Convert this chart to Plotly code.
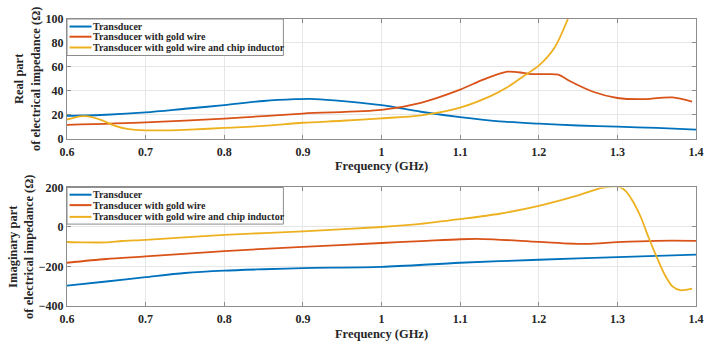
import plotly.graph_objects as go

# Frequency sample points (GHz) and impedance readings (Ohm) per configuration
freq_re_t = [0.6, 0.65, 0.7, 0.75, 0.8, 0.85, 0.89, 0.91, 0.94, 1.0, 1.05, 1.1, 1.15, 1.2, 1.25, 1.3, 1.35, 1.4]
re_t = [19, 20, 22, 25, 28, 31.5, 33, 33.3, 32, 28, 22.5, 18, 14.5, 12.5, 11, 10, 9, 7.5]

freq_re_g = [0.6, 0.7, 0.8, 0.9, 1.0, 1.05, 1.1, 1.13, 1.16, 1.18, 1.19, 1.21, 1.225, 1.24, 1.27, 1.3, 1.33, 1.37, 1.395]
re_g = [11.5, 13.6, 16.8, 21, 24, 30, 41, 49.5, 56, 55, 54, 54, 53.5, 48, 39, 34, 33, 34.5, 31]

freq_re_c = [0.6, 0.617, 0.627, 0.644, 0.661, 0.678, 0.7, 0.73, 0.756, 0.8, 0.85, 0.9, 0.95, 1.0, 1.05, 1.1, 1.14, 1.16, 1.18, 1.2, 1.22, 1.237, 1.25]
re_c = [16, 18.7, 18.7, 15.5, 10.7, 8, 7, 7, 7.5, 9, 10.7, 13.3, 15, 17, 19.5, 26, 36, 43, 52, 61, 76, 100, 125]

freq_im_t = [0.6, 0.65, 0.7, 0.75, 0.8, 0.85, 0.9, 1.0, 1.1, 1.2, 1.3, 1.4]
im_t = [-297, -276, -254, -233, -221, -214, -208, -202, -181, -166, -153, -140]

freq_im_g = [0.6, 0.65, 0.7, 0.8, 0.9, 1.0, 1.05, 1.1, 1.13, 1.2, 1.26, 1.3, 1.35, 1.4]
im_g = [-181, -162, -149, -122, -101, -81, -72, -62, -61, -75, -86, -77, -70, -70]

freq_im_c = [0.6, 0.62, 0.65, 0.67, 0.7, 0.8, 0.9, 1.0, 1.05, 1.1, 1.15, 1.2, 1.25, 1.28, 1.3, 1.31, 1.32,
             1.33, 1.34, 1.35, 1.36, 1.37, 1.38, 1.395]
im_c = [-76, -78, -78, -71, -65, -40, -22, 0, 16, 40, 67, 107, 160, 198, 205, 184, 128,
        48, -56, -152, -240, -301, -320, -312]

names = ["Transducer", "Transducer with gold wire", "Transducer with gold wire and chip inductor"]
colors = ["#0072BD", "#D95319", "#EDB120"]

x_ticks = [0.6, 0.7, 0.8, 0.9, 1.0, 1.1, 1.2, 1.3, 1.4]
x_tick_text = ["0.6", "0.7", "0.8", "0.9", "1", "1.1", "1.2", "1.3", "1.4"]

FONT = "Liberation Serif"
TXT = "#262626"
EDGE = "#8c8c8c"

fig = go.Figure()

real_sets = [(freq_re_t, re_t), (freq_re_g, re_g), (freq_re_c, re_c)]
imag_sets = [(freq_im_t, im_t), (freq_im_g, im_g), (freq_im_c, im_c)]

for (fx, fy), name, c in zip(real_sets, names, colors):
    fig.add_trace(go.Scatter(x=fx, y=fy, mode="lines", name=name, showlegend=False,
                             line=dict(color=c, width=1.8, shape="spline", smoothing=0.8),
                             xaxis="x", yaxis="y"))
for (fx, fy), name, c in zip(imag_sets, names, colors):
    fig.add_trace(go.Scatter(x=fx, y=fy, mode="lines", name=name, showlegend=False,
                             line=dict(color=c, width=1.8, shape="spline", smoothing=0.8),
                             xaxis="x2", yaxis="y2"))

# Compact boxed legends drawn inside the top-left corner of each panel
legend_specs = [
    ("x", "y", 0.695, [0.937, 0.852, 0.762]),
    ("x2", "y2", 0.691, [0.939, 0.851, 0.752]),
]
for xa, ya, bottom, rows in legend_specs:
    xr, yr = f"{xa} domain", f"{ya} domain"
    fig.add_shape(type="rect", xref=xr, yref=yr, x0=0.0, x1=0.344, y0=bottom, y1=1.0,
                  line=dict(color=EDGE, width=1), fillcolor="white", layer="above")
    for name, c, ry in zip(names, colors, rows):
        fig.add_shape(type="line", xref=xr, yref=yr, x0=0.004, x1=0.039, y0=ry, y1=ry,
                      line=dict(color=c, width=2), layer="above")
        fig.add_annotation(xref=xr, yref=yr, x=0.040, y=ry, text=f"<b>{name}</b>",
                           showarrow=False, xanchor="left", yanchor="middle", borderpad=0,
                           font=dict(family=FONT, size=10, color=TXT))

axis_common = dict(
    showgrid=True, gridcolor="#e6e6e6", gridwidth=1,
    showline=True, linecolor=EDGE, linewidth=1, mirror="ticks",
    ticks="inside", ticklen=4, tickcolor=EDGE,
    zeroline=False,
    tickfont=dict(family=FONT, size=12, color=TXT, weight="bold"),
)
title_font = dict(family=FONT, size=12.5, color=TXT)

fig.update_layout(
    width=718, height=350,
    margin=dict(l=66, r=22, t=13, b=34),
    paper_bgcolor="white", plot_bgcolor="white",
    font=dict(family=FONT, color=TXT),
    showlegend=False,
    xaxis=dict(domain=[0, 1], anchor="y", range=[0.6, 1.4], tickvals=x_ticks, ticktext=x_tick_text,
               ticklabelstandoff=2,
               title=dict(text="<b>Frequency (GHz)</b>", standoff=3, font=title_font),
               **axis_common),
    yaxis=dict(domain=[0.583, 1.0], anchor="x", range=[0, 100], tickvals=[0, 20, 40, 60, 80, 100],
               title=dict(text="<b>Real part<br>of electrical impedance (Ω)</b>", standoff=2, font=title_font),
               **axis_common),
    xaxis2=dict(domain=[0, 1], anchor="y2", range=[0.6, 1.4], tickvals=x_ticks, ticktext=x_tick_text,
                ticklabelstandoff=2,
                title=dict(text="<b>Frequency (GHz)</b>", standoff=3, font=title_font),
                **axis_common),
    yaxis2=dict(domain=[0.0, 0.413], anchor="x2", range=[-400, 200], tickvals=[-400, -200, 0, 200],
                title=dict(text="<b>Imaginary part<br>of electrical impedance (Ω)</b>", standoff=2, font=title_font),
                **axis_common),
)

fig.write_html("out.html")
